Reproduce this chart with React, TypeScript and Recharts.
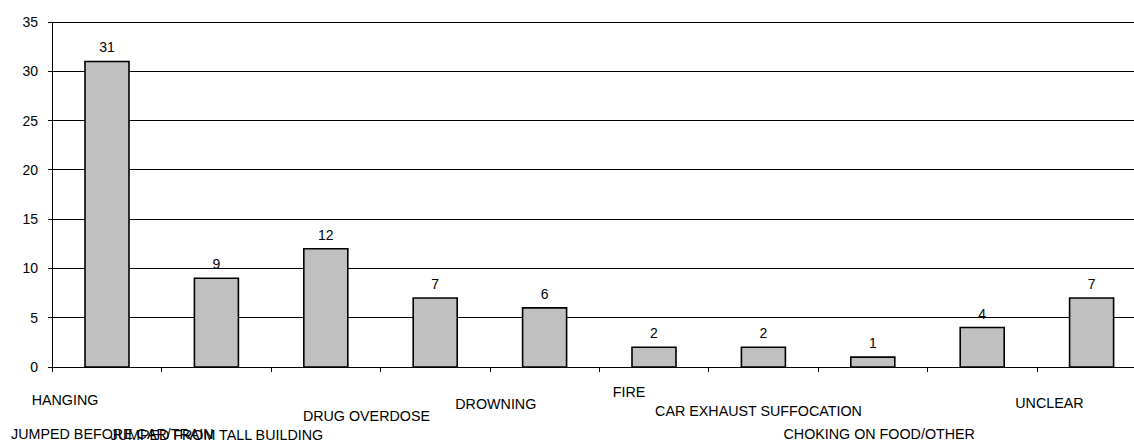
import React from 'react';
import { BarChart, Bar, XAxis, YAxis, CartesianGrid, LabelList } from 'recharts';

const categories = [
  'HANGING',
  'JUMPED BEFORE CAR/TRAIN',
  'JUMPED FROM TALL BUILDING',
  'DRUG OVERDOSE',
  'DROWNING',
  'FIRE',
  'CAR EXHAUST SUFFOCATION',
  'CHOKING ON FOOD/OTHER',
  '',
  'UNCLEAR',
];
const counts = [31, 9, 12, 7, 6, 2, 2, 1, 4, 7];
const yTicks = [0, 5, 10, 15, 20, 25, 30, 35];

const data = categories.map((name, i) => ({ name, value: counts[i] }));

// chart geometry (plot runs past the right edge of the frame)
const CHART_W = 1146;
const CHART_H = 444;
const AXIS_W = 52;
const BAND = (CHART_W - AXIS_W) / categories.length;

// staggered category label placement: dx from band centre, dy = baseline below axis
const labelPlacement = [
  { dx: -75, dy: 37.5 },
  { dx: -205, dy: 71.5 },
  { dx: -215, dy: 72.5 },
  { dx: -132, dy: 54 },
  { dx: -89, dy: 42 },
  { dx: -41, dy: 30 },
  { dx: -108, dy: 49 },
  { dx: -89, dy: 72 },
  { dx: 0, dy: 40 },
  { dx: -76, dy: 41 },
];

const FONT = 'Arial, "Liberation Sans", sans-serif';

function CategoryTick(props: any) {
  const { x, y, payload, index } = props;
  const place = labelPlacement[index] || { dx: 0, dy: 40 };
  const left = Math.round(x - BAND / 2) + 0.5;
  return (
    <g>
      <line x1={left} x2={left} y1={y} y2={y + 5} stroke="#000" strokeWidth={1} />
      <text
        x={x + place.dx}
        y={y + place.dy}
        textAnchor="start"
        fontSize={14.3}
        fontFamily={FONT}
        fill="#000"
      >
        {payload.value}
      </text>
    </g>
  );
}

export default function App() {
  return (
    <div
      style={{
        position: 'fixed',
        top: 0,
        left: 0,
        width: 1134,
        height: 444,
        overflow: 'hidden',
        background: '#fff',
        fontFamily: FONT,
      }}
    >
      <BarChart
        width={CHART_W}
        height={CHART_H}
        data={data}
        margin={{ top: 22, right: 0, bottom: 0, left: 0 }}
      >
        <CartesianGrid vertical={false} stroke="#000" strokeWidth={1} shapeRendering="crispEdges" />
        <XAxis
          dataKey="name"
          height={77}
          axisLine={{ stroke: '#000', shapeRendering: 'crispEdges' }}
          tickLine={false}
          tickSize={0}
          tickMargin={0}
          interval={0}
          tick={<CategoryTick />}
        />
        <YAxis
          width={AXIS_W}
          domain={[0, 35]}
          ticks={yTicks}
          interval={0}
          axisLine={{ stroke: '#000', shapeRendering: 'crispEdges' }}
          tickLine={{ stroke: '#000', shapeRendering: 'crispEdges' }}
          tickSize={4}
          tickMargin={10}
          tick={{ fill: '#000', fontSize: 14, fontFamily: FONT }}
        />
        <Bar
          dataKey="value"
          fill="#C0C0C0"
          stroke="#000"
          strokeWidth={1.6}
          barSize={44}
          isAnimationActive={false}
        >
          <LabelList
            dataKey="value"
            position="top"
            offset={9}
            fill="#000"
            fontSize={14}
            fontFamily={FONT}
          />
        </Bar>
      </BarChart>
    </div>
  );
}
